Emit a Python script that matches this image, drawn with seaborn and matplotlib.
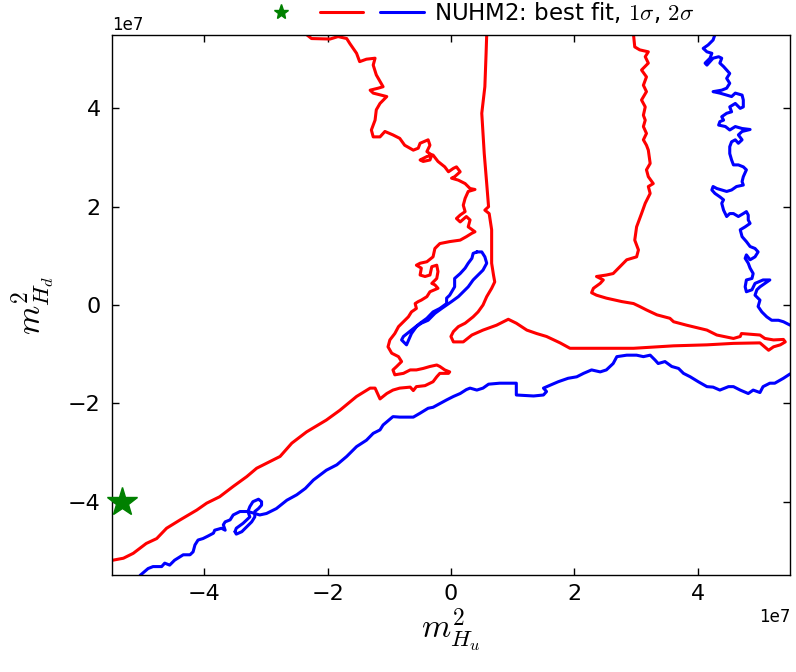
import matplotlib
matplotlib.use('Agg')
import matplotlib.pyplot as plt
import seaborn as sns
from matplotlib.lines import Line2D

# =========================
# DATA: contour vertices (units of 1e7)
# =========================
SCALE = 1e7

# 1 sigma, left branch (top edge -> left edge)
red1_x = [-2.34, -2.26, -1.96, -1.83, -1.69, -1.64, -1.53, -1.48, -1.37, -1.23, -1.26, -1.21, -1.10, -1.18,
          -1.31, -1.26, -1.04, -1.15, -1.21, -1.23, -1.29, -1.26, -1.15, -1.07, -0.94, -0.83, -0.75, -0.61,
          -0.53, -0.50, -0.37, -0.34, -0.39, -0.31, -0.34, -0.45, -0.50, -0.39, -0.29, -0.21, -0.10, -0.04,
          0.04, 0.09, 0.15, 0.06, 0.01, 0.12, 0.23, 0.31, 0.39, 0.28, 0.23, 0.20, 0.23, 0.15, 0.09, 0.15,
          0.25, 0.31, 0.28, 0.39, 0.34, 0.25, 0.15, -0.02, -0.18, -0.26, -0.29, -0.39, -0.50, -0.56, -0.48,
          -0.50, -0.42, -0.34, -0.31, -0.23, -0.21, -0.23, -0.31, -0.26, -0.21, -0.34, -0.39, -0.48, -0.53,
          -0.58, -0.56, -0.64, -0.69, -0.77, -0.85, -0.91, -0.99, -1.02, -0.96, -0.85, -0.80, -0.88, -0.94,
          -0.91, -0.77, -0.66, -0.56, -0.45, -0.34, -0.23, -0.18, -0.10, -0.02, -0.04, -0.18, -0.23, -0.29,
          -0.42, -0.56, -0.61, -0.66, -0.83, -0.94, -1.04, -1.15, -1.23, -1.31, -1.53, -1.80, -2.02, -2.34,
          -2.58, -2.77, -2.99, -3.15, -3.31, -3.53, -3.75, -3.96, -4.12, -4.39, -4.61, -4.77, -4.94, -5.15,
          -5.31, -5.48, -5.50]
red1_y = [5.50, 5.42, 5.41, 5.46, 5.42, 5.32, 5.12, 4.95, 5.00, 5.02, 4.88, 4.68, 4.44, 4.41,
          4.37, 4.31, 4.24, 4.10, 3.97, 3.76, 3.56, 3.42, 3.42, 3.53, 3.46, 3.39, 3.25, 3.15,
          3.19, 3.29, 3.36, 3.25, 3.12, 3.05, 2.95, 2.92, 2.95, 3.02, 3.05, 2.92, 2.81, 2.71,
          2.78, 2.81, 2.71, 2.61, 2.58, 2.54, 2.47, 2.37, 2.35, 2.31, 2.17, 2.03, 1.90, 1.83, 1.76, 1.69,
          1.80, 1.73, 1.59, 1.49, 1.46, 1.39, 1.32, 1.29, 1.25, 1.15, 0.98, 0.88, 0.85, 0.81, 0.75,
          0.61, 0.58, 0.61, 0.78, 0.81, 0.68, 0.54, 0.44, 0.41, 0.34, 0.27, 0.17, 0.10, 0.07,
          0.03, -0.07, -0.14, -0.24, -0.34, -0.44, -0.58, -0.71, -0.85, -0.98, -1.05, -1.15, -1.25, -1.32,
          -1.42, -1.39, -1.32, -1.32, -1.29, -1.25, -1.22, -1.25, -1.32, -1.36, -1.39, -1.39, -1.46, -1.56,
          -1.64, -1.66, -1.74, -1.67, -1.69, -1.73, -1.80, -1.91, -1.69, -1.69, -1.86, -2.14, -2.34, -2.58,
          -2.81, -3.08, -3.22, -3.32, -3.49, -3.69, -3.90, -4.03, -4.17, -4.37, -4.54, -4.75, -4.85, -5.05,
          -5.15, -5.19, -5.19]

# 1 sigma, central/right branch (top edge -> top edge)
red2_x = [0.58, 0.57, 0.55, 0.50, 0.54, 0.58, 0.61, 0.55, 0.62, 0.66, 0.66, 0.66, 0.69, 0.71, 0.66, 0.58,
          0.52, 0.44, 0.36, 0.23, 0.12, 0.04, 0.00, 0.04, 0.20, 0.34, 0.52, 0.74, 0.93, 1.06, 1.23, 1.39,
          1.55, 1.77, 1.93, 2.52, 2.96, 3.61, 4.15, 4.58, 5.01, 5.15, 5.23, 5.34, 5.42, 5.39, 5.23, 5.09,
          5.01, 4.71, 4.69, 4.58, 4.31, 4.15, 3.82, 3.61, 3.55, 3.34, 3.17, 3.06, 2.96, 2.77, 2.52, 2.36,
          2.28, 2.31, 2.42, 2.47, 2.36, 2.52, 2.63, 2.74, 2.85, 3.01, 3.04, 2.98, 3.01, 3.09, 3.15, 3.23,
          3.20, 3.28, 3.20, 3.17, 3.23, 3.20, 3.17, 3.12, 3.17, 3.12, 3.15, 3.12, 3.15, 3.09, 3.17, 3.12,
          3.17, 3.09, 3.20, 3.15, 3.20, 3.06, 2.98, 2.96]
red2_y = [5.50, 5.12, 4.44, 3.90, 3.08, 2.47, 2.00, 1.93, 1.86, 1.53, 1.19, 0.85, 0.61, 0.47, 0.34, 0.17,
          0.00, -0.14, -0.24, -0.37, -0.44, -0.54, -0.64, -0.75, -0.75, -0.61, -0.51, -0.41, -0.29, -0.37, -0.51, -0.58,
          -0.64, -0.77, -0.88, -0.88, -0.88, -0.83, -0.81, -0.78, -0.77, -0.92, -0.85, -0.81, -0.75, -0.70, -0.71, -0.68,
          -0.61, -0.58, -0.64, -0.68, -0.61, -0.51, -0.41, -0.34, -0.27, -0.20, -0.10, -0.03, 0.03, 0.07, 0.14, 0.20,
          0.25, 0.34, 0.44, 0.51, 0.58, 0.61, 0.64, 0.78, 0.92, 0.98, 1.12, 1.32, 1.59, 1.86, 2.07, 2.27,
          2.41, 2.47, 2.61, 2.75, 2.88, 3.15, 3.25, 3.36, 3.49, 3.63, 3.76, 3.86, 4.03, 4.17, 4.34, 4.47,
          4.64, 4.78, 4.92, 5.05, 5.15, 5.19, 5.25, 5.50]

# 2 sigma, thin island in the centre (closed)
blue1_x = [0.42, 0.50, 0.55, 0.58, 0.52, 0.44, 0.36, 0.28, 0.20, 0.12, 0.01, -0.07, -0.15, -0.26, -0.37,
           -0.48, -0.56, -0.64, -0.72, -0.80, -0.77, -0.64, -0.50, -0.39, -0.29, -0.18, -0.07, -0.07, -0.02,
           0.06, 0.06, 0.15, 0.23, 0.28, 0.34, 0.36, 0.42]
blue1_y = [1.08, 1.08, 0.98, 0.85, 0.71, 0.61, 0.51, 0.37, 0.27, 0.17, 0.07, 0.00, -0.07, -0.17, -0.31,
           -0.37, -0.44, -0.58, -0.81, -0.71, -0.64, -0.51, -0.37, -0.27, -0.14, -0.07, 0.03, 0.14, 0.20,
           0.37, 0.54, 0.64, 0.75, 0.85, 0.95, 1.05, 1.08]

# 2 sigma, small island bottom left (closed)
blue2_x = [-3.50, -3.48, -3.37, -3.26, -3.29, -3.26, -3.21, -3.12, -3.07, -3.07, -3.12, -3.18, -3.18,
           -3.23, -3.31, -3.39, -3.48, -3.50]
blue2_y = [-4.61, -4.54, -4.44, -4.31, -4.20, -4.10, -4.00, -3.95, -4.00, -4.07, -4.14, -4.20, -4.31,
           -4.41, -4.51, -4.61, -4.66, -4.61]

# 2 sigma, lower band (bottom edge -> right edge)
blue3_x = [-5.04, -4.91, -4.83, -4.69, -4.64, -4.56, -4.48, -4.34, -4.23, -4.18, -4.15, -4.10, -4.02,
           -3.94, -3.85, -3.83, -3.72, -3.66, -3.69, -3.66, -3.58, -3.53, -3.42, -3.29, -3.18, -3.10,
           -2.99, -2.83, -2.66, -2.50, -2.36, -2.23, -2.02, -1.85, -1.69, -1.53, -1.37, -1.26, -1.15,
           -1.10, -0.94, -0.83, -0.61, -0.50, -0.37, -0.29, -0.07, 0.04, 0.15, 0.25, 0.31, 0.42, 0.52,
           0.61, 0.79, 1.06, 1.06, 1.34, 1.50, 1.55, 1.50, 1.61, 1.74, 1.90, 2.04, 2.15, 2.28, 2.42,
           2.52, 2.63, 2.69, 2.85, 3.01, 3.12, 3.23, 3.31, 3.36, 3.47, 3.58, 3.69, 3.77, 3.88, 4.01,
           4.15, 4.25, 4.36, 4.50, 4.58, 4.69, 4.82, 4.90, 5.01, 5.06, 5.17, 5.25, 5.39, 5.50]
blue3_y = [-5.50, -5.36, -5.32, -5.32, -5.25, -5.29, -5.19, -5.08, -5.08, -5.02, -4.88, -4.78, -4.75,
           -4.70, -4.64, -4.58, -4.54, -4.58, -4.47, -4.41, -4.37, -4.27, -4.20, -4.20, -4.24, -4.27,
           -4.24, -4.14, -3.97, -3.86, -3.73, -3.56, -3.36, -3.25, -3.08, -2.88, -2.75, -2.61, -2.54,
           -2.44, -2.27, -2.28, -2.28, -2.20, -2.10, -2.08, -1.93, -1.86, -1.80, -1.72, -1.69, -1.73, -1.69,
           -1.61, -1.59, -1.59, -1.83, -1.85, -1.83, -1.76, -1.69, -1.63, -1.56, -1.49, -1.46, -1.39, -1.32, -1.36,
           -1.32, -1.19, -1.05, -1.02, -1.02, -1.05, -1.02, -1.12, -1.19, -1.15, -1.25, -1.29, -1.39, -1.46, -1.56,
           -1.66, -1.67, -1.73, -1.66, -1.66, -1.73, -1.80, -1.73, -1.78, -1.66, -1.59, -1.59, -1.49, -1.40]

# 2 sigma, right edge (top edge -> right edge)
blue4_x = [4.28, 4.25, 4.17, 4.09, 4.15, 4.23, 4.20, 4.12, 4.15, 4.25, 4.34, 4.39, 4.36, 4.42, 4.47,
           4.52, 4.47, 4.52, 4.47, 4.39, 4.25, 4.36, 4.47, 4.55, 4.61, 4.72, 4.74, 4.74, 4.69, 4.61,
           4.52, 4.55, 4.47, 4.39, 4.42, 4.36, 4.34, 4.45, 4.52, 4.61, 4.72, 4.85, 4.72, 4.66, 4.72,
           4.66, 4.61, 4.55, 4.52, 4.52, 4.55, 4.58, 4.66, 4.74, 4.79, 4.74, 4.72, 4.74, 4.63, 4.55,
           4.47, 4.39, 4.31, 4.25, 4.23, 4.28, 4.36, 4.42, 4.39, 4.42, 4.47, 4.52, 4.58, 4.66, 4.74,
           4.79, 4.82, 4.82, 4.85, 4.77, 4.69, 4.72, 4.79, 4.85, 4.93, 4.98, 4.93, 4.85, 4.79, 4.77,
           4.82, 4.85, 4.90, 4.88, 4.79, 4.77, 4.79, 4.88, 4.93, 5.06, 5.17, 5.01, 4.96, 4.93, 5.01,
           4.98, 5.04, 5.12, 5.20, 5.31, 5.39, 5.50]
blue4_y = [5.50, 5.39, 5.29, 5.22, 5.15, 5.12, 5.02, 4.92, 4.88, 5.02, 5.05, 5.02, 4.92, 4.85, 4.78,
           4.71, 4.61, 4.51, 4.41, 4.37, 4.34, 4.31, 4.27, 4.24, 4.31, 4.27, 4.17, 4.03, 4.00, 4.10,
           4.03, 3.93, 3.90, 3.83, 3.76, 3.73, 3.66, 3.63, 3.56, 3.63, 3.59, 3.57, 3.53, 3.46, 3.36,
           3.29, 3.36, 3.32, 3.22, 3.08, 2.95, 2.85, 2.85, 2.81, 2.75, 2.61, 2.51, 2.44, 2.41, 2.34,
           2.31, 2.34, 2.37, 2.41, 2.34, 2.27, 2.20, 2.14, 2.07, 1.93, 1.80, 1.86, 1.86, 1.80, 1.86,
           1.90, 1.83, 1.73, 1.66, 1.59, 1.53, 1.39, 1.29, 1.19, 1.15, 1.08, 0.98, 0.92, 1.02, 0.95,
           0.85, 0.75, 0.64, 0.54, 0.51, 0.37, 0.27, 0.31, 0.44, 0.51, 0.51, 0.37, 0.31, 0.20, 0.10,
           -0.03, -0.14, -0.24, -0.31, -0.31, -0.34, -0.41]

# best fit point
best_x = [-5.34]
best_y = [-4.00]

red_curves = [(red1_x, red1_y), (red2_x, red2_y)]
blue_curves = [(blue1_x, blue1_y), (blue2_x, blue2_y), (blue3_x, blue3_y), (blue4_x, blue4_y)]

ticks = [-4, -2, 0, 2, 4]
legend_text = 'NUHM2: best fit, $1\\sigma$, $2\\sigma$'

# =========================
# STYLE
# =========================
sns.set_style('ticks')
plt.rcParams['font.family'] = ['DejaVu Sans']
plt.rcParams['mathtext.fontset'] = 'cm'
for key in ['text.color', 'axes.labelcolor', 'xtick.color', 'ytick.color']:
    plt.rcParams[key] = 'black'

fig = plt.figure(figsize=(7.96, 6.72), dpi=100)
ax = fig.add_axes([0.1403, 0.1437, 0.8524, 0.8048])

# =========================
# CONTOURS
# =========================
for cx, cy in red_curves:
    sns.lineplot(x=[v * SCALE for v in cx], y=[v * SCALE for v in cy], sort=False, estimator=None,
                 color='r', linewidth=2.2, ax=ax)

for cx, cy in blue_curves:
    sns.lineplot(x=[v * SCALE for v in cx], y=[v * SCALE for v in cy], sort=False, estimator=None,
                 color='b', linewidth=2.2, ax=ax)

ax.plot([v * SCALE for v in best_x], [v * SCALE for v in best_y], marker='*', color='g',
        markersize=22, linestyle='none', clip_on=False, zorder=5)

# =========================
# AXES
# =========================
lim = 5.5 * SCALE
ax.set_xlim(-lim, lim)
ax.set_ylim(-lim, lim)
ax.set_xticks([t * SCALE for t in ticks])
ax.set_yticks([t * SCALE for t in ticks])
ax.tick_params(direction='in', top=True, right=True, length=5, width=1, labelsize=16)
ax.tick_params(axis='x', pad=6)
ax.tick_params(axis='y', pad=8)
ax.xaxis.get_offset_text().set_fontsize(12)
ax.yaxis.get_offset_text().set_fontsize(12)
for s in ax.spines.values():
    s.set_linewidth(1.0)
    s.set_color('black')

ax.set_xlabel('$m^2_{H_u}$', fontsize=24, labelpad=2)
ax.set_ylabel('$m^2_{H_d}$', fontsize=24, labelpad=8)

# =========================
# LEGEND
# =========================
handles = [
    Line2D([], [], marker='*', color='g', markersize=20, linestyle='none'),
    Line2D([], [], color='r', linewidth=2.2),
    Line2D([], [], color='b', linewidth=2.2),
]
ax.legend(handles, ['', '', legend_text], ncol=3, loc='center left',
          bbox_to_anchor=(0.315, 0.981), bbox_transform=fig.transFigure, borderaxespad=0,
          frameon=False, handlelength=1.88, handletextpad=0.44, columnspacing=0.31,
          fontsize=16.5, numpoints=1, markerscale=0.55)

plt.savefig('out.png', dpi=100)
